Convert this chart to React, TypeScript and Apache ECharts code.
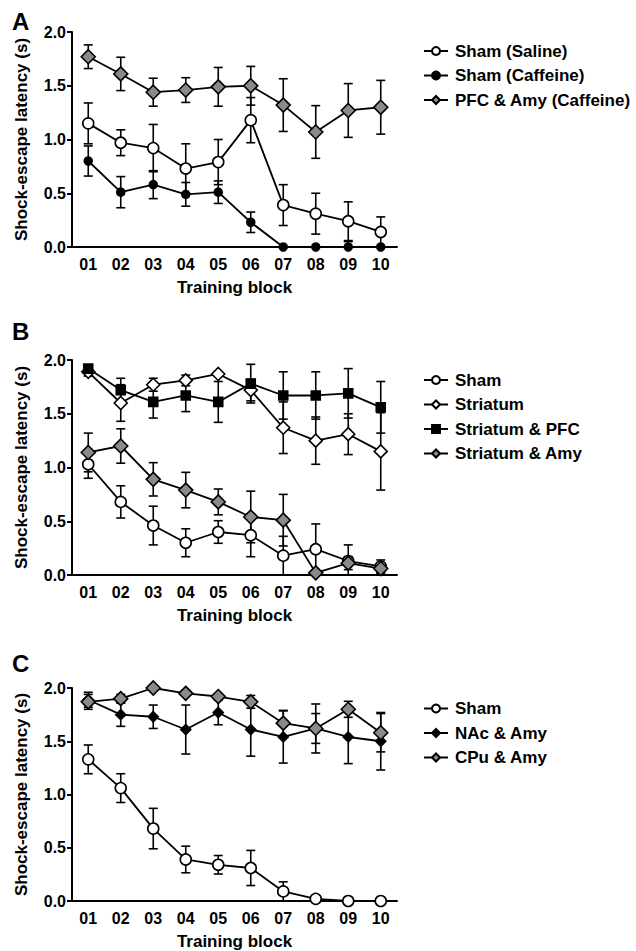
import React, { useEffect, useRef } from "react";
import * as echarts from "echarts";

const blocks = ["01", "02", "03", "04", "05", "06", "07", "08", "09", "10"];
const yTicks = [0, 0.5, 1.0, 1.5, 2.0];

// Panel A
const shamSaline = [1.15, 0.97, 0.92, 0.73, 0.79, 1.18, 0.39, 0.31, 0.24, 0.14];
const shamSalineErr = [0.19, 0.12, 0.22, 0.23, 0.21, 0.21, 0.19, 0.19, 0.18, 0.14];
const shamCaffeine = [0.8, 0.51, 0.58, 0.49, 0.51, 0.23, 0, 0, 0, 0];
const shamCaffeineErr = [0.14, 0.145, 0.13, 0.11, 0.105, 0.095, 0, 0, 0.05, 0];
const pfcAmy = [1.77, 1.61, 1.44, 1.46, 1.49, 1.5, 1.32, 1.07, 1.27, 1.3];
const pfcAmyErr = [0.11, 0.155, 0.13, 0.115, 0.18, 0.18, 0.245, 0.245, 0.25, 0.25];

// Panel B
const shamB = [1.03, 0.68, 0.46, 0.3, 0.4, 0.37, 0.18, 0.24, 0.13, 0.08];
const shamBErr = [0.13, 0.15, 0.18, 0.13, 0.105, 0.2, 0.18, 0.235, 0.15, 0.06];
const striatum = [1.89, 1.6, 1.77, 1.81, 1.87, 1.72, 1.37, 1.25, 1.31, 1.15];
const striatumErr = [0.04, 0.17, 0.06, 0.05, 0.02, 0.1, 0.24, 0.22, 0.19, 0.36];
const striatumPfc = [1.92, 1.72, 1.61, 1.67, 1.61, 1.78, 1.67, 1.67, 1.69, 1.56];
const striatumPfcErr = [0.03, 0.11, 0.15, 0.15, 0.19, 0.18, 0.22, 0.22, 0.23, 0.24];
const striatumAmy = [1.14, 1.2, 0.89, 0.79, 0.68, 0.54, 0.51, 0.02, 0.11, 0.06];
const striatumAmyErr = [0.18, 0.16, 0.155, 0.165, 0.12, 0.24, 0.24, 0.02, 0.06, 0.04];

// Panel C
const shamC = [1.33, 1.06, 0.68, 0.39, 0.34, 0.31, 0.09, 0.02, 0, 0];
const shamCErr = [0.135, 0.135, 0.19, 0.125, 0.087, 0.165, 0.09, 0, 0, 0];
const nacAmy = [1.89, 1.75, 1.73, 1.61, 1.77, 1.61, 1.54, 1.62, 1.54, 1.5];
const nacAmyErr = [0.07, 0.11, 0.11, 0.23, 0.115, 0.25, 0.245, 0.14, 0.25, 0.27];
const cpuAmy = [1.87, 1.9, 2.0, 1.95, 1.92, 1.87, 1.67, 1.62, 1.8, 1.58];
const cpuAmyErr = [0.07, 0.04, 0, 0, 0.02, 0.06, 0.12, 0.23, 0.075, 0.18];

const FONT = "'Liberation Sans', Arial, Helvetica, sans-serif";
const GRAY = "#8a8a8a";
const gridTops = [32, 360, 688];
const GRID_H = 215;

function lineSeries(name: string, data: number[], g: number, symbol: string, size: number, fill: string) {
  return {
    type: "line",
    name,
    xAxisIndex: g,
    yAxisIndex: g,
    data,
    symbol,
    symbolSize: size,
    showAllSymbol: true,
    z: 3,
    itemStyle: { color: fill, borderColor: "#000", borderWidth: 1.6 },
    lineStyle: { color: "#000", width: 1.8 },
    emphasis: { disabled: true },
  };
}

function errSeries(values: number[], errs: number[], g: number) {
  const data = values
    .map((v, i) => [i, Math.max(0, v - errs[i]), v + errs[i], errs[i]])
    .filter((d) => d[3] > 0);
  return {
    type: "custom",
    xAxisIndex: g,
    yAxisIndex: g,
    z: 1,
    silent: true,
    data,
    encode: { x: 0, y: [1, 2] },
    renderItem: (params: any, api: any) => {
      const lo = api.coord([api.value(0), api.value(1)]);
      const hi = api.coord([api.value(0), api.value(2)]);
      const hw = 4.5;
      const st = { stroke: "#000", lineWidth: 1.6 };
      return {
        type: "group",
        children: [
          { type: "line", shape: { x1: lo[0], y1: lo[1], x2: hi[0], y2: hi[1] }, style: st },
          { type: "line", shape: { x1: hi[0] - hw, y1: hi[1], x2: hi[0] + hw, y2: hi[1] }, style: st },
          { type: "line", shape: { x1: lo[0] - hw, y1: lo[1], x2: lo[0] + hw, y2: lo[1] }, style: st },
        ],
      };
    },
  };
}

function legendFor(names: string[], top: number) {
  return {
    data: names,
    orient: "vertical",
    left: 418,
    top,
    itemWidth: 24,
    itemHeight: 10,
    itemGap: 7.5,
    selectedMode: false,
    textStyle: {
      fontFamily: FONT,
      fontSize: 17,
      fontWeight: "bold",
      color: "#000",
      lineHeight: 17,
      padding: [0, 0, 0, 2],
    },
  };
}

export default function App() {
  const ref = useRef<HTMLDivElement>(null);
  useEffect(() => {
    if (!ref.current) return;
    const chart = echarts.init(ref.current, undefined, { renderer: "svg" });
    const grids = gridTops.map((t) => ({ left: 72, top: t, width: 325, height: GRID_H }));
    const xAxes = gridTops.map((_, g) => ({
      type: "category",
      gridIndex: g,
      data: blocks,
      boundaryGap: true,
      name: "Training block",
      nameLocation: "middle",
      nameGap: 32,
      nameTextStyle: { fontFamily: FONT, fontSize: 17, fontWeight: "bold", color: "#000" },
      axisLine: { lineStyle: { color: "#000", width: 2 } },
      axisTick: { alignWithLabel: true, length: 5, lineStyle: { color: "#000", width: 2 } },
      axisLabel: { fontFamily: FONT, fontSize: 16, fontWeight: "bold", color: "#000", margin: 9 },
      splitLine: { show: false },
    }));
    const yAxes = gridTops.map((_, g) => ({
      type: "value",
      gridIndex: g,
      min: 0,
      max: 2,
      interval: 0.5,
      name: "Shock-escape latency (s)",
      nameLocation: "middle",
      nameGap: 42,
      nameTextStyle: { fontFamily: FONT, fontSize: 17, fontWeight: "bold", color: "#000" },
      axisLine: { show: true, lineStyle: { color: "#000", width: 2 } },
      axisTick: { show: true, length: 5, lineStyle: { color: "#000", width: 2 } },
      axisLabel: {
        fontFamily: FONT,
        fontSize: 16,
        fontWeight: "bold",
        color: "#000",
        margin: 6,
        formatter: (v: number) => (yTicks.includes(v) ? v.toFixed(1) : ""),
      },
      splitLine: { show: false },
    }));

    const series: any[] = [
      errSeries(pfcAmy, pfcAmyErr, 0),
      errSeries(shamSaline, shamSalineErr, 0),
      errSeries(shamCaffeine, shamCaffeineErr, 0),
      lineSeries("Sham (Saline)", shamSaline, 0, "circle", 11, "#fff"),
      lineSeries("Sham (Caffeine)", shamCaffeine, 0, "circle", 8, "#000"),
      lineSeries("PFC & Amy (Caffeine)", pfcAmy, 0, "diamond", 14, GRAY),

      errSeries(shamB, shamBErr, 1),
      errSeries(striatum, striatumErr, 1),
      errSeries(striatumPfc, striatumPfcErr, 1),
      errSeries(striatumAmy, striatumAmyErr, 1),
      lineSeries("Sham", shamB, 1, "circle", 11, "#fff"),
      lineSeries("Striatum", striatum, 1, "diamond", 13, "#fff"),
      lineSeries("Striatum & PFC", striatumPfc, 1, "rect", 9, "#000"),
      lineSeries("Striatum & Amy", striatumAmy, 1, "diamond", 14, GRAY),

      errSeries(shamC, shamCErr, 2),
      errSeries(nacAmy, nacAmyErr, 2),
      errSeries(cpuAmy, cpuAmyErr, 2),
      lineSeries("Sham", shamC, 2, "circle", 11, "#fff"),
      lineSeries("NAc & Amy", nacAmy, 2, "diamond", 10, "#000"),
      lineSeries("CPu & Amy", cpuAmy, 2, "diamond", 14, GRAY),
    ];

    const letter = (t: string, y: number) => ({
      type: "text",
      style: { text: t, x: 12, y, verticalAlign: "middle", fontFamily: FONT, fontSize: 24, fontWeight: "bold", fill: "#000" },
    });

    chart.setOption({
      animation: false,
      backgroundColor: "#fff",
      grid: grids,
      xAxis: xAxes,
      yAxis: yAxes,
      legend: [
        legendFor(["Sham (Saline)", "Sham (Caffeine)", "PFC & Amy (Caffeine)"], 37.5),
        legendFor(["Sham", "Striatum", "Striatum & PFC", "Striatum & Amy"], 366.5),
        legendFor(["Sham", "NAc & Amy", "CPu & Amy"], 695),
      ],
      graphic: [letter("A", 21), letter("B", 331), letter("C", 663)],
      series,
    });
    return () => chart.dispose();
  }, []);
  return <div ref={ref} style={{ position: "absolute", left: 0, top: 0, width: 636, height: 951 }} />;
}
